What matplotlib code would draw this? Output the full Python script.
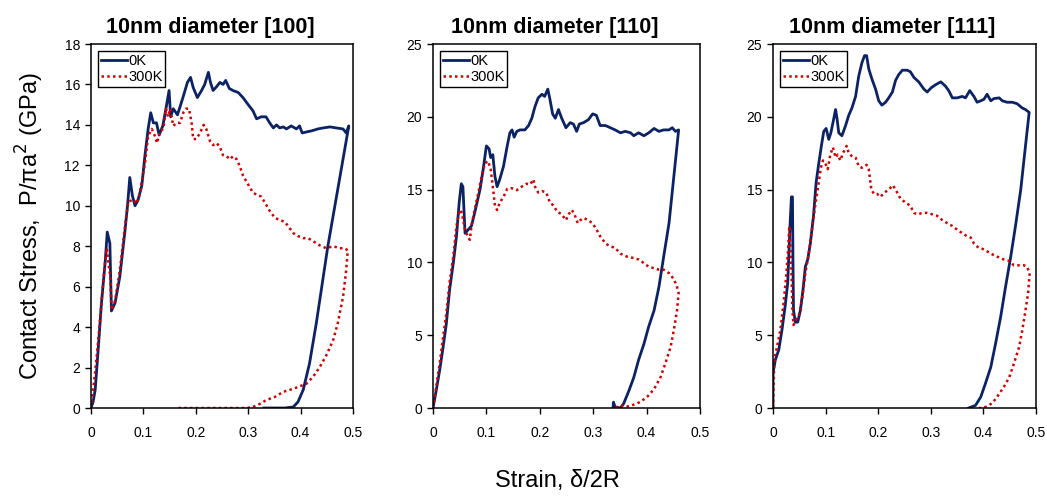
import matplotlib
matplotlib.use("Agg")
import matplotlib.pyplot as plt
from matplotlib.ticker import FuncFormatter

plt.rcParams['font.family'] = ['Liberation Sans', 'DejaVu Sans']

titles = ["10nm diameter [100]", "10nm diameter [110]", "10nm diameter [111]"]
series_labels = ["0K", "300K"]
x_ticks = [0, 0.1, 0.2, 0.3, 0.4, 0.5]
y_limits = [18, 25, 25]
y_steps = [2, 5, 5]

# ---- Panel [100] ----
p100_0K_x = [0, 0.004, 0.008, 0.014, 0.020, 0.027, 0.031, 0.036, 0.039, 0.046, 0.055, 0.065, 0.070, 0.074, 0.079,
             0.084, 0.090, 0.097, 0.103, 0.109, 0.114, 0.119, 0.125, 0.130, 0.137, 0.143, 0.149, 0.152, 0.157,
             0.165, 0.170, 0.176, 0.184, 0.190, 0.195, 0.203, 0.211, 0.217, 0.224, 0.228, 0.233, 0.240, 0.246,
             0.252, 0.257, 0.264, 0.271, 0.281, 0.290, 0.300, 0.309, 0.316, 0.325, 0.334, 0.341, 0.348, 0.354,
             0.360, 0.367, 0.373, 0.382, 0.392, 0.398, 0.403, 0.411, 0.420, 0.427, 0.433, 0.443, 0.456, 0.468,
             0.481, 0.487, 0.492, 0.452, 0.430, 0.417, 0.405, 0.395, 0.386, 0.370, 0.330]
p100_0K_y = [0, 0.3, 0.9, 3.0, 5.2, 7.2, 8.7, 8.15, 4.8, 5.2, 6.5, 8.8, 10.1, 11.4, 10.5,
             10.0, 10.3, 11.0, 12.5, 13.8, 14.6, 14.1, 14.1, 13.5, 13.95, 14.8, 15.7, 14.4, 14.8,
             14.5, 14.9, 15.4, 16.1, 16.35, 15.85, 15.35, 15.7, 16.0, 16.6, 16.1, 15.7, 15.9, 16.1,
             16.0, 16.2, 15.8, 15.7, 15.6, 15.35, 15.0, 14.7, 14.3, 14.4, 14.4, 14.1, 13.85, 14.0,
             13.85, 13.9, 13.8, 13.95, 13.8, 13.95, 13.6, 13.65, 13.7, 13.75, 13.8, 13.85, 13.9, 13.85,
             13.8, 13.6, 13.95, 8.0, 4.2, 2.2, 0.9, 0.3, 0.05, 0, 0]
p100_300K_x = [0, 0.004, 0.008, 0.014, 0.020, 0.026, 0.030, 0.035, 0.037, 0.039, 0.046, 0.055, 0.065, 0.071,
               0.081, 0.087, 0.093, 0.103, 0.109, 0.116, 0.122, 0.126, 0.132, 0.138, 0.143, 0.147, 0.151,
               0.157, 0.163, 0.170, 0.176, 0.181, 0.187, 0.192, 0.195, 0.201, 0.208, 0.215, 0.220, 0.227,
               0.233, 0.240, 0.246, 0.252, 0.259, 0.265, 0.271, 0.278, 0.284, 0.290, 0.300, 0.309, 0.316,
               0.325, 0.332, 0.341, 0.351, 0.360, 0.370, 0.376, 0.386, 0.395, 0.405, 0.414, 0.424, 0.436,
               0.449, 0.462, 0.475, 0.484, 0.490, 0.487, 0.481, 0.471, 0.462, 0.449, 0.436, 0.424, 0.411,
               0.401, 0.386, 0.367, 0.351, 0.335, 0.322, 0.309, 0.297, 0.166]
p100_300K_y = [0, 0.9, 1.8, 3.4, 5.2, 7.0, 7.9, 6.8, 6.5, 4.85, 5.3, 6.8, 9.0, 10.2,
               10.3, 10.1, 10.6, 12.1, 13.45, 13.8, 13.45, 13.1, 13.7, 13.8, 14.8, 14.4, 14.8,
               13.95, 14.1, 14.1, 14.6, 14.8, 14.8, 14.1, 13.3, 13.3, 13.6, 14.0, 13.8, 13.2,
               13.0, 13.1, 12.9, 12.5, 12.45, 12.3, 12.45, 12.3, 11.95, 11.5, 11.05, 10.65, 10.55,
               10.45, 10.15, 9.75, 9.4, 9.3, 9.2, 9.0, 8.65, 8.5, 8.4, 8.4, 8.25, 8.05,
               7.9, 8.0, 7.9, 7.9, 7.8, 6.8, 5.5, 4.2, 3.35, 2.6, 2.0, 1.55, 1.2,
               1.1, 0.95, 0.8, 0.55, 0.4, 0.2, 0.05, 0, 0]

# ---- Panel [110] ----
p110_0K_x = [0, 0.006, 0.0125, 0.019, 0.025, 0.031, 0.038, 0.044, 0.049, 0.053, 0.056, 0.060, 0.066, 0.072,
             0.078, 0.088, 0.094, 0.100, 0.105, 0.108, 0.112, 0.116, 0.120, 0.125, 0.132, 0.139, 0.144, 0.148,
             0.152, 0.157, 0.163, 0.172, 0.179, 0.185, 0.191, 0.197, 0.204, 0.209, 0.215, 0.219, 0.224, 0.229,
             0.235, 0.241, 0.249, 0.257, 0.263, 0.269, 0.274, 0.282, 0.291, 0.299, 0.306, 0.313, 0.323, 0.332,
             0.341, 0.351, 0.360, 0.370, 0.376, 0.385, 0.395, 0.404, 0.414, 0.423, 0.432, 0.442, 0.448, 0.454,
             0.460, 0.451, 0.442, 0.432, 0.423, 0.414, 0.404, 0.395, 0.385, 0.376, 0.367, 0.357, 0.351, 0.341,
             0.338, 0.337]
p110_0K_y = [0, 1.2, 2.6, 4.2, 5.8, 8.1, 9.95, 11.8, 14.1, 15.4, 15.2, 12.0, 12.25, 12.5,
             13.4, 15.0, 16.4, 18.0, 17.8, 17.2, 17.4, 15.9, 15.2, 15.7, 16.6, 18.0, 18.9, 19.1,
             18.6, 19.0, 19.1, 19.1, 19.4, 19.9, 20.7, 21.3, 21.55, 21.4, 21.9, 21.2, 20.2, 19.9,
             20.5, 19.9, 19.25, 19.6, 19.5, 19.0, 19.5, 19.6, 19.8, 20.2, 20.1, 19.4, 19.4, 19.25,
             19.1, 18.9, 19.0, 18.9, 18.7, 18.9, 18.7, 18.9, 19.2, 19.0, 19.1, 19.1, 19.25, 19.0,
             19.1, 15.9, 12.7, 10.4, 8.3, 6.7, 5.6, 4.4, 3.3, 2.1, 1.2, 0.3, 0, 0.07,
             0.4, 0]
p110_300K_x = [0, 0.006, 0.0125, 0.019, 0.025, 0.031, 0.038, 0.044, 0.049, 0.052, 0.055, 0.060, 0.066, 0.069,
               0.072, 0.078, 0.085, 0.091, 0.097, 0.103, 0.108, 0.112, 0.116, 0.120, 0.125, 0.132, 0.139,
               0.147, 0.157, 0.166, 0.175, 0.182, 0.188, 0.191, 0.197, 0.204, 0.212, 0.219, 0.226, 0.232,
               0.241, 0.249, 0.254, 0.260, 0.265, 0.271, 0.276, 0.282, 0.291, 0.298, 0.304, 0.313, 0.323,
               0.332, 0.341, 0.351, 0.363, 0.376, 0.385, 0.395, 0.404, 0.414, 0.423, 0.432, 0.442, 0.450,
               0.456, 0.460, 0.457, 0.451, 0.445, 0.435, 0.426, 0.414, 0.401, 0.388, 0.376, 0.363, 0.351,
               0.345, 0.337]
p110_300K_y = [0, 1.45, 3.05, 4.9, 6.5, 8.6, 10.4, 12.5, 13.5, 13.6, 13.2, 12.25, 11.7, 11.55,
               12.5, 13.6, 14.8, 15.9, 16.8, 16.96, 16.4, 15.2, 13.9, 13.6, 14.1, 14.5, 15.05,
               15.1, 14.96, 15.2, 15.4, 15.35, 15.7, 15.2, 14.8, 14.9, 14.8, 14.1, 13.9, 13.5,
               13.3, 12.9, 13.3, 13.6, 13.3, 12.7, 12.9, 13.05, 12.9, 12.7, 12.4, 11.8, 11.3,
               11.1, 11.0, 10.6, 10.4, 10.3, 10.2, 9.95, 9.7, 9.6, 9.5, 9.5, 9.26, 8.9,
               8.45, 7.9, 6.7, 5.35, 4.2, 3.05, 2.1, 1.3, 0.76, 0.41, 0.23, 0.1, 0.18,
               0.07, 0]

# ---- Panel [111] ----
p111_0K_x = [0, 0, 0.0044, 0.011, 0.017, 0.023, 0.028, 0.032, 0.035, 0.037, 0.038, 0.039, 0.0425, 0.047,
             0.052, 0.057, 0.0615, 0.066, 0.071, 0.077, 0.082, 0.087, 0.092, 0.0965, 0.101, 0.106, 0.110,
             0.114, 0.119, 0.122, 0.125, 0.131, 0.138, 0.144, 0.150, 0.157, 0.163, 0.169, 0.174, 0.178,
             0.182, 0.188, 0.195, 0.201, 0.207, 0.214, 0.220, 0.227, 0.233, 0.239, 0.246, 0.255, 0.261,
             0.268, 0.277, 0.287, 0.293, 0.301, 0.309, 0.319, 0.328, 0.334, 0.341, 0.350, 0.360, 0.366,
             0.374, 0.382, 0.388, 0.395, 0.401, 0.407, 0.414, 0.420, 0.430, 0.436, 0.445, 0.455, 0.464,
             0.474, 0.480, 0.487, 0.480, 0.471, 0.461, 0.452, 0.442, 0.433, 0.423, 0.414, 0.404, 0.395,
             0.385, 0.372]
p111_0K_y = [0, 2.4, 3.3, 4.0, 5.35, 6.96, 8.6, 12.25, 14.5, 14.5, 9.95, 6.7, 5.9, 5.9,
             6.7, 8.1, 9.7, 10.2, 11.3, 13.2, 15.5, 16.8, 18.0, 19.0, 19.2, 18.45, 18.9,
             19.6, 20.5, 19.8, 18.9, 18.7, 19.4, 20.1, 20.6, 21.4, 22.8, 23.7, 24.2, 24.2,
             23.3, 22.6, 21.9, 21.1, 20.8, 21.0, 21.3, 21.7, 22.5, 22.9, 23.2, 23.2, 23.1,
             22.7, 22.4, 21.9, 21.7, 22.0, 22.2, 22.4, 22.1, 21.8, 21.3, 21.3, 21.4, 21.3,
             21.8, 21.4, 21.0, 21.1, 21.2, 21.55, 21.1, 21.25, 21.3, 21.1, 21.0, 21.0, 20.9,
             20.6, 20.5, 20.3, 18.0, 15.0, 12.5, 10.4, 8.3, 6.3, 4.4, 2.8, 1.7, 0.76,
             0.18, 0]
p111_300K_x = [0, 0.0025, 0.0076, 0.014, 0.020, 0.025, 0.029, 0.031, 0.033, 0.035, 0.037, 0.039, 0.0425,
               0.049, 0.055, 0.0615, 0.068, 0.074, 0.081, 0.087, 0.091, 0.095, 0.0996, 0.104, 0.109, 0.114,
               0.119, 0.123, 0.128, 0.133, 0.140, 0.144, 0.150, 0.157, 0.163, 0.169, 0.178, 0.182, 0.187,
               0.192, 0.198, 0.204, 0.212, 0.220, 0.228, 0.236, 0.242, 0.252, 0.261, 0.268, 0.275, 0.284,
               0.293, 0.303, 0.312, 0.322, 0.331, 0.341, 0.350, 0.360, 0.369, 0.376, 0.382, 0.391, 0.401,
               0.414, 0.426, 0.439, 0.449, 0.458, 0.468, 0.477, 0.483, 0.488, 0.485, 0.480, 0.474, 0.468,
               0.458, 0.449, 0.439, 0.426, 0.417, 0.407, 0.398, 0.385]
p111_300K_y = [0, 3.3, 4.2, 5.35, 7.2, 9.0, 11.1, 12.5, 11.3, 9.5, 6.7, 5.7, 6.0,
               6.3, 7.4, 9.26, 10.6, 12.25, 14.1, 15.5, 16.5, 17.0, 16.8, 16.4, 17.4, 17.9,
               17.2, 17.4, 17.0, 17.5, 18.0, 17.5, 17.3, 17.2, 16.6, 16.5, 16.7, 16.4, 15.0,
               14.7, 14.7, 14.5, 14.8, 15.0, 15.3, 14.8, 14.4, 14.1, 13.9, 13.4, 13.3, 13.4,
               13.4, 13.3, 13.2, 12.9, 12.7, 12.5, 12.25, 12.0, 11.8, 11.7, 11.3, 11.0, 10.9,
               10.6, 10.4, 10.2, 10.1, 9.8, 9.8, 9.8, 9.7, 9.26, 7.9, 6.7, 5.35, 4.2,
               3.05, 2.1, 1.45, 0.76, 0.34, 0.11, 0, 0]

panels = [
    (p100_0K_x, p100_0K_y, p100_300K_x, p100_300K_y),
    (p110_0K_x, p110_0K_y, p110_300K_x, p110_300K_y),
    (p111_0K_x, p111_0K_y, p111_300K_x, p111_300K_y),
]

NAVY = "#0b2265"
RED = "#d40000"

fig = plt.figure(figsize=(10.47, 4.97), dpi=100)
W, H = 1047, 497
boxes = [(91, 353), (433, 700), (773, 1036)]
top_px, bot_px = 44, 408

fmt = FuncFormatter(lambda v, p: ("%g" % v))

for i, (box, data) in enumerate(zip(boxes, panels)):
    l, r = box
    ax = fig.add_axes([l / W, 1 - bot_px / H, (r - l) / W, (bot_px - top_px) / H])
    x0, y0, x3, y3 = data
    ax.plot(x0, y0, color=NAVY, lw=2.0, label=series_labels[0], solid_joinstyle='round')
    ax.plot(x3, y3, color=RED, lw=1.8, linestyle=(0, (1, 1.3)), label=series_labels[1])
    ax.set_xlim(0, 0.5)
    ax.set_ylim(0, y_limits[i])
    ax.set_xticks(x_ticks)
    ax.set_yticks(list(range(0, y_limits[i] + 1, y_steps[i])))
    ax.xaxis.set_major_formatter(fmt)
    ax.yaxis.set_major_formatter(fmt)
    ax.tick_params(direction='out', length=4, width=1, labelsize=10, colors='black')
    ax.tick_params(axis='x', pad=9)
    ax.tick_params(axis='y', pad=4)
    for s in ax.spines.values():
        s.set_linewidth(1.1)
        s.set_color('black')
    ax.set_title(titles[i], fontsize=15.5, fontweight='bold', pad=8, x=0.455)
    leg = ax.legend(loc='upper left', fontsize=10.5, frameon=True, fancybox=False,
                    edgecolor='black', framealpha=1, borderpad=0.2, labelspacing=0.1,
                    handlelength=1.8, handletextpad=0.05, borderaxespad=0.5)
    leg.get_frame().set_linewidth(1.0)

fig.text(30 / W, 1 - 226 / H, "Contact Stress,  P/πa$^2$ (GPa)", rotation=90,
         ha='center', va='center', fontsize=17)
fig.text(557 / W, 1 - 481 / H, "Strain, δ/2R", ha='center', va='center', fontsize=17)

fig.savefig("out.png", dpi=100)
